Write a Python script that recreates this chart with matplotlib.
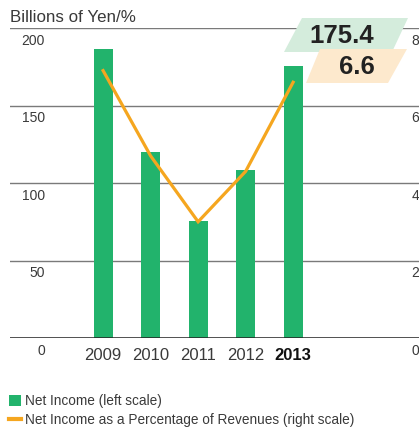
import matplotlib
matplotlib.use("Agg")
import matplotlib.pyplot as plt
from matplotlib.patches import Polygon, Patch
from matplotlib.lines import Line2D
import numpy as np

plt.rcParams["font.family"] = ["Liberation Sans", "DejaVu Sans"]

# --- Data ---
years = ["2009", "2010", "2011", "2012", "2013"]
net_income = [186.5, 120.0, 75.5, 108.5, 175.4]      # billions of yen (left)
pct_revenues = [6.9, 4.7, 3.0, 4.3, 6.6]             # % (right)
left_ticks = [0, 50, 100, 150, 200]
right_ticks = [0, 2, 4, 6, 8]

green = "#22b36c"
orange = "#f5a61f"
grid_col = "#7a7a7a"
text_col = "#3a3a3a"

W, H = 419, 429
fig = plt.figure(figsize=(W / 100, H / 100), dpi=100)

# axes box in pixels: x 10..419, y 28..338 (from top)
ax = fig.add_axes([10 / W, (H - 338) / H, 409 / W, 310 / H])
ax2 = ax.twinx()

x = np.arange(len(years))
ax.bar(x, net_income, width=0.4, color=green, zorder=2)
ax2.plot(x, pct_revenues, color=orange, lw=2.3, solid_joinstyle="miter", zorder=3)

ax.set_xlim(-1.96, 6.65)
ax.set_ylim(0, 200)
ax2.set_ylim(0, 8)

for a in (ax, ax2):
    for s in a.spines.values():
        s.set_visible(False)
    a.set_yticks([])
    a.tick_params(length=0)

# gridlines
for t in left_ticks[1:]:
    ax.axhline(t, color=grid_col, lw=1.0, zorder=1)
ax.axhline(0, color="#222222", lw=1.1, zorder=4)

# tick labels below gridlines
ytr = ax.get_yaxis_transform()
for t in left_ticks:
    ax.annotate(str(t), xy=(35 / 409, t), xycoords=ytr, xytext=(0, -4),
                textcoords="offset points", ha="right", va="top",
                fontsize=10, color=text_col)
ytr2 = ax2.get_yaxis_transform()
for t in right_ticks:
    ax2.annotate(str(t), xy=(1.0, t), xycoords=ytr2, xytext=(0, -4),
                 textcoords="offset points", ha="right", va="top",
                 fontsize=10, color=text_col)

# year labels
ax.set_xticks(x)
ax.set_xticklabels(years, fontsize=12, color=text_col)
ax.tick_params(axis="x", pad=7)
ax.get_xticklabels()[-1].set_fontweight("bold")
ax.get_xticklabels()[-1].set_color("#111111")

# title
fig.text(10 / W, 1 - 17 / H, "Billions of Yen/%", fontsize=12.2, color=text_col,
         ha="left", va="center")

# callout boxes (figure pixel coords, y from top)
def px(pts):
    return [(xx / W, 1 - yy / H) for xx, yy in pts]

fig.patches.append(Polygon(px([(302, 18), (408, 18), (392, 52), (284, 52)]),
                           closed=True, facecolor="#d4ecdc", edgecolor="none",
                           transform=fig.transFigure, zorder=5))
fig.patches.append(Polygon(px([(320, 49), (407, 49), (388, 83), (306, 83)]),
                           closed=True, facecolor="#fde9cd", edgecolor="none",
                           transform=fig.transFigure, zorder=5))
fig.text(342 / W, 1 - 36 / H, f"{net_income[-1]:.1f}", fontsize=18.5, fontweight="bold",
         color="#222222", ha="center", va="center", zorder=6)
fig.text(357 / W, 1 - 67 / H, f"{pct_revenues[-1]:.1f}", fontsize=18.5, fontweight="bold",
         color="#222222", ha="center", va="center", zorder=6)

# legend
handles = [Patch(facecolor=green, edgecolor="none"),
           Line2D([0], [0], color=orange, lw=3)]
labels = ["Net Income (left scale)",
          "Net Income as a Percentage of Revenues (right scale)"]
fig.legend(handles, labels, loc="upper left", bbox_to_anchor=(9 / W, 1 - 394 / H),
           frameon=False, fontsize=9.8, handlelength=0.9, handleheight=0.9,
           handletextpad=0.3, labelspacing=0.35, borderpad=0, borderaxespad=0,
           labelcolor=text_col)

fig.savefig("out.png", dpi=100)
